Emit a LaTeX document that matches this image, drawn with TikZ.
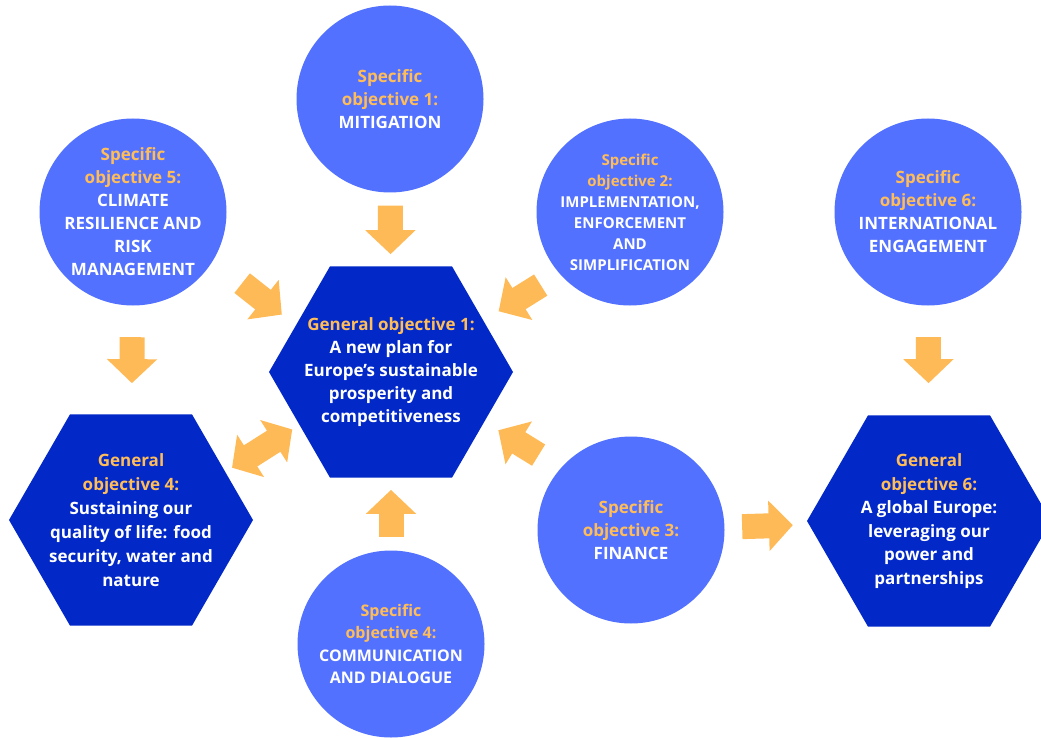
\documentclass[tikz,border=0pt]{standalone}
\usepackage{fontspec}
\setmainfont{Open Sans}
\usetikzlibrary{shapes.geometric,arrows.meta}
\definecolor{objblue}{RGB}{83,113,255}
\definecolor{genblue}{RGB}{2,40,200}
\definecolor{arrorange}{RGB}{255,186,88}
\definecolor{txtorange}{RGB}{255,189,89}
\newcommand{\hl}[1]{\textcolor{txtorange}{#1}}
\tikzset{
  specific/.style={
    circle,
    fill=objblue,
    minimum size=187pt,
    inner sep=0pt
  },
  general/.style={
    regular polygon,
    regular polygon sides=6,
    fill=genblue,
    minimum size=244pt,
    inner sep=0pt
  },
  objtext/.style={
    align=center,
    text=white,
    font=\bfseries\fontsize{17}{23}\selectfont
  },
  blockarrow/.style={
    draw=arrorange,
    line width=25pt,
    -{Triangle[width=49pt,length=24pt]}
  },
  twoway/.style={
    draw=arrorange,
    line width=25pt,
    {Triangle[width=49pt,length=22pt]}-{Triangle[width=49pt,length=22pt]}
  }
}

\begin{document}
\begin{tikzpicture}[x=1pt, y=-1pt]
  \useasboundingbox (0,0) rectangle (1041,738);
  % objective shapes
  \node[specific] (so1) at (390,99) {};
  \node[specific] (so2) at (630,212) {};
  \node[specific] (so3) at (631,530) {};
  \node[specific] (so4) at (391,644) {};
  \node[specific] (so5) at (133,212) {};
  \node[specific] (so6) at (928,212) {};
  \node[general] (go1) at (391,372) {};
  \node[general] (go4) at (131,520) {};
  \node[general] (go6) at (929,521) {};

  % arrows
  \draw[blockarrow, shorten <=13pt, shorten >=12pt] (so1) -- (go1);
  \draw[blockarrow, shorten <=13.5pt, shorten >=12pt] (so4) -- (go1);
  \draw[blockarrow, shorten <=36.8pt, shorten >=17.6pt] (so5.329) -- (go1.154);
  \draw[blockarrow, shorten <=21.9pt, shorten >=17.7pt] (so2.221) -- (go1.29);
  \draw[blockarrow, shorten <=25.5pt, shorten >=16.2pt] (so3.139) -- (go1.332);
  \draw[twoway, shorten <=7.8pt, shorten >=8.4pt] (go4.27) -- (go1.210);
  \draw[blockarrow, shorten <=31.5pt, shorten >=31pt] (so5) -- (go4);
  \draw[blockarrow, shorten <=31.5pt, shorten >=32pt] (so6) -- (go6);
  \draw[blockarrow, shorten <=17.5pt, shorten >=16pt] (so3) -- (go6);

  % texts
  \node[objtext] (so1-text) at (so1) {\hl{Specific}\\\hl{objective 1:}\\MITIGATION};
  \node[objtext, font=\bfseries\fontsize{15}{21}\selectfont] (so2-text) at (so2)
    {\hl{Specific}\\\hl{objective 2:}\\IMPLEMENTATION,\\ENFORCEMENT\\AND\\SIMPLIFICATION};
  \node[objtext] (so3-text) at (so3) {\hl{Specific}\\\hl{objective 3:}\\FINANCE};
  \node[objtext, font=\bfseries\fontsize{16}{22.5}\selectfont] (so4-text) at (so4)
    {\hl{Specific}\\\hl{objective 4:}\\COMMUNICATION\\AND DIALOGUE};
  \node[objtext] (so5-text) at (so5)
    {\hl{Specific}\\\hl{objective 5:}\\CLIMATE\\RESILIENCE AND\\RISK\\MANAGEMENT};
  \node[objtext] (so6-text) at (so6) {\hl{Specific}\\\hl{objective 6:}\\INTERNATIONAL\\ENGAGEMENT};
  \node[objtext] (go1-text) at (go1)
    {\hl{General objective 1:}\\A new plan for\\Europe’s sustainable\\prosperity and\\competitiveness};
  \node[objtext, font=\bfseries\fontsize{17}{24}\selectfont] (go4-text) at (go4)
    {\hl{General}\\\hl{objective 4:}\\Sustaining our\\quality of life: food\\security, water and\\nature};
  \node[objtext, font=\bfseries\fontsize{17}{23.5}\selectfont] (go6-text) at (go6)
    {\hl{General}\\\hl{objective 6:}\\A global Europe:\\leveraging our\\power and\\partnerships};
\end{tikzpicture}
\end{document}
